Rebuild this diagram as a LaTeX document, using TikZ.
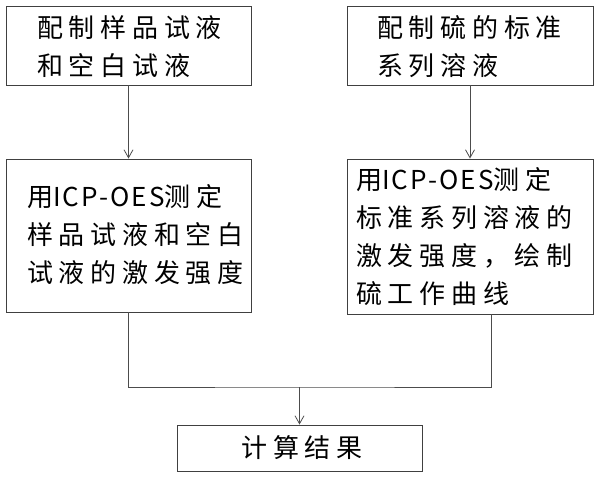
\documentclass[tikz,border=0pt]{standalone}
\usepackage{fontspec}
\usetikzlibrary{arrows.meta}
\newfontfamily\cjk[LetterSpace=22]{Noto Sans CJK SC}
\newfontfamily\lat[LetterSpace=8]{Noto Sans CJK SC}
\tikzset{
  boxnode/.style={draw=black!75, line width=0.9pt, inner sep=0pt, rectangle},
  txt/.style={anchor=west, align=left, inner sep=0pt, text=black, font=\cjk\fontsize{26}{38}\selectfont},
  conn/.style={draw=black!70, line width=0.8pt},
  arr/.style={conn, -{Straight Barb[length=8pt,width=9pt,line width=0.8pt]}}
}
\begin{document}
\begin{tikzpicture}[x=1pt,y=-1pt]
\useasboundingbox (0,0) rectangle (600,477);
% boxes (x1,y1)-(x2,y2) in px
\node[boxnode, minimum width=245pt, minimum height=79pt] (A) at (128.5,45.5) {};
\node[boxnode, minimum width=246pt, minimum height=79pt] (B) at (470,45.5) {};
\node[boxnode, minimum width=245pt, minimum height=153pt] (C) at (128.5,235.5) {};
\node[boxnode, minimum width=246pt, minimum height=155pt] (D) at (470,236.5) {};
\node[boxnode, minimum width=245pt, minimum height=46pt] (E) at (299.5,448) {};
% texts
\node[txt] (tA) at (37,47) {配制样品试液\\和空白试液};
\node[txt] (tB) at (377,47) {配制硫的标准\\系列溶液};
\node[txt] (tC) at (27,235) {用{\lat ICP-OES}测定\\样品试液和空白\\试液的激发强度};
\node[txt] (tD) at (356,237) {用{\lat ICP-OES}测定\\标准系列溶液的\\激发强度，绘制\\硫工作曲线};
\node[txt, anchor=center] (tE) at (302,448) {计算结果};
% connectors
\coordinate (J) at (299.5,387);
\coordinate (Dout) at ([xshift=21pt]D.south);
\draw[arr] (A.south) -- (C.north);
\draw[arr] (B.south) -- (D.north);
\draw[conn] (C.south) |- (J) -| (Dout);
\draw[arr] (J) -- (E.north);
\end{tikzpicture}
\end{document}
